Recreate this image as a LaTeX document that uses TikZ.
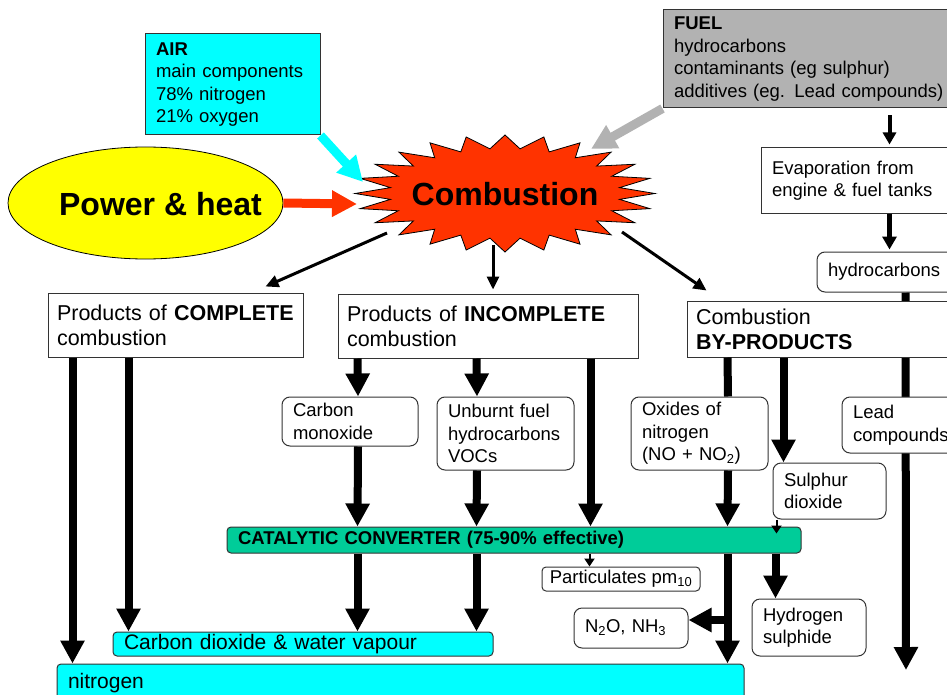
\documentclass[tikz,border=0pt]{standalone}
\usepackage{fontspec}
\setmainfont{Liberation Sans}
\usetikzlibrary{arrows.meta,shapes.geometric,backgrounds}

\definecolor{aircyan}{RGB}{0,255,255}
\definecolor{fuelgrey}{RGB}{178,178,178}
\definecolor{flamered}{RGB}{255,51,0}
\definecolor{powyellow}{RGB}{255,255,0}
\definecolor{catgreen}{RGB}{0,204,153}
\definecolor{boxline}{RGB}{51,51,51}

\tikzset{
    box/.style = {draw = boxline, line width = 1pt, fill = white, align = left,
                  inner xsep = 11pt, inner ysep = 0pt,
                  font = \fontsize{18.5}{22.5}\selectfont},
    headbox/.style = {box, inner xsep = 9pt, font = \fontsize{21.5}{25}\selectfont},
    roundbox/.style = {box, rounded corners = 8pt},
    bandbox/.style = {box, rounded corners = 4pt, font = \fontsize{21}{25}\selectfont},
    bigfont/.style = {font = \fontsize{32}{36}\selectfont\bfseries},
    bigarrow/.style = {line width = 8pt, -{Triangle[width = 23pt, length = 23pt]}},
    midarrow/.style = {line width = 5pt, -{Triangle[width = 14pt, length = 13pt]}},
    thinarrow/.style = {line width = 3pt, -{Triangle[width = 12pt, length = 13pt]}},
    tinyarrow/.style = {line width = 2pt, -{Triangle[width = 10pt, length = 8pt]}},
    feedarrow/.style = {line width = 9pt, -{Triangle[width = 25pt, length = 25pt]}}
}

\begin{document}
\begin{tikzpicture}[x = 1pt, y = -1pt]
    \useasboundingbox (0, 0) rectangle (947, 695);
    \clip (0, 0) rectangle (947, 695);

    \node[box, fill = aircyan, text width = 153pt, minimum height = 101pt] (air) at (232.5, 84.5) {\textbf{AIR}\\main components\\78\% nitrogen\\21\% oxygen};
    \node[box, fill = fuelgrey, text width = 288pt, minimum height = 98pt] (fuel) at (818, 59) {\textbf{FUEL}\\hydrocarbons\\contaminants (eg sulphur)\\additives (eg. Lead compounds)};
    \node[ellipse, draw = black, line width = 0.8pt, fill = powyellow, minimum width = 275pt, minimum height = 112pt, inner sep = 0pt] (power) at (145.5, 203) {};
    \node[bigfont] (powtext) at (160.5, 204) {Power \& heat};

    \draw[line width = 0.8pt, fill = flamered] plot[variable = \k, samples at = {0, ..., 47}] ({505 + 150 * (1 - 0.23 * mod(\k, 2)) * cos(90 + 7.5 * \k)}, {193.5 - 58.5 * (1 - 0.23 * mod(\k, 2)) * sin(90 + 7.5 * \k)}) -- cycle;
    \node[bigfont] (comb) at (505, 194) {Combustion};

    \coordinate (airtip)  at (363, 182);
    \coordinate (fueltip) at (591, 149);
    \coordinate (powtip)  at (357, 204);
    \coordinate (combsw)  at (387, 233);
    \coordinate (combs)   at (493, 245);
    \coordinate (combse)  at (622, 232);

    \node[headbox, text width = 237pt, minimum height = 64pt] (complete) at (175.5, 325) {Products of \textbf{COMPLETE}\\combustion};
    \node[headbox, text width = 282pt, minimum height = 64pt] (incomplete) at (488, 326) {Products of \textbf{INCOMPLETE}\\combustion};
    \node[headbox, text width = 272pt, minimum height = 56pt] (byprod) at (832, 329) {Combustion\\\textbf{BY-PRODUCTS}};

    \node[box, text width = 188pt, minimum height = 65pt] (evap) at (866, 180.5) {Evaporation from\\engine \& fuel tanks};
    \node[roundbox, text width = 138pt, minimum height = 40pt] (hydro) at (897, 272) {hydrocarbons};

    \node[roundbox, text width = 114pt, minimum height = 49pt] (carbmon) at (350, 421.5) {Carbon\\monoxide};
    \node[roundbox, text width = 115pt, minimum height = 73pt] (unburnt) at (505.5, 433.5) {Unburnt fuel\\hydrocarbons\\VOCs};
    \node[roundbox, text width = 115pt, minimum height = 73pt] (oxides) at (699.5, 433.5) {Oxides of\\nitrogen\\(NO + NO\textsubscript{2})};
    \node[roundbox, text width = 118pt, minimum height = 56pt] (lead) at (912, 425) {Lead\\compounds};
    \node[roundbox, text width = 91pt, minimum height = 56pt] (sulphur) at (829.5, 491) {Sulphur\\dioxide};

    \node[box, rounded corners = 4pt, fill = catgreen, text width = 552pt, minimum height = 26pt] (cat) at (514, 540) {\textbf{CATALYTIC CONVERTER (75-90\% effective)}};

    \node[box, rounded corners = 4pt, inner xsep = 0pt, minimum width = 158pt, minimum height = 24pt] (partic) at (621, 579) {Particulates pm\textsubscript{10}};
    \node[roundbox, text width = 92pt, minimum height = 40pt] (n2o) at (631, 628) {N\textsubscript{2}O, NH\textsubscript{3}};
    \node[roundbox, text width = 92pt, minimum height = 57pt] (h2s) at (809, 627.5) {Hydrogen\\sulphide};
    \node[bandbox, fill = aircyan, text width = 358pt, minimum height = 24pt] (co2) at (303, 644) {Carbon dioxide \& water vapour};
    \node[bandbox, fill = aircyan, text width = 665pt, minimum height = 38pt] (nitro) at (400.5, 683) {nitrogen};

    \draw[feedarrow, aircyan] (air.south east) -- (airtip);
    \draw[feedarrow, fuelgrey] (fuel.south west) -- (fueltip);
    \draw[feedarrow, flamered] (power.east) -- (powtip);

    \draw[thinarrow] (combsw) -- ([xshift = -38pt, yshift = 6pt]complete.north east);
    \draw[thinarrow] (combs) -- ([xshift = 5pt, yshift = 4pt]incomplete.north);
    \draw[thinarrow] (combse) -- ([xshift = 20pt, yshift = 10pt]byprod.north west);

    \draw[line width = 4pt, -{Triangle[width = 13pt, length = 12pt]}] ([xshift = 227pt, yshift = -7pt]fuel.south west) -- ([xshift = 129pt, yshift = 3pt]evap.north west);
    \draw[midarrow] ([xshift = 129pt]evap.south west) -- ([xshift = 73pt, yshift = 2pt]hydro.north west);
    \coordinate (leadend) at (906, 670);
    \begin{pgfonlayer}{background}
        \draw[bigarrow] ([xshift = 89pt]hydro.south west) -- (leadend);
    \end{pgfonlayer}

    \draw[bigarrow] ([xshift = 25pt]complete.south west) -- ([xshift = 16pt]nitro.north west);
    \draw[bigarrow] ([xshift = 81pt]complete.south west) -- ([xshift = 16pt]co2.north west);

    \draw[bigarrow] ([xshift = 20pt]incomplete.south west) -- ([xshift = 8pt]carbmon.north);
    \draw[bigarrow] ([xshift = 139pt]incomplete.south west) -- ([xshift = -28.5pt]unburnt.north);
    \draw[bigarrow] ([xshift = 253pt]incomplete.south west) -- ([xshift = 364pt]cat.north west);
    \draw[bigarrow] ([xshift = 8pt]carbmon.south) -- ([xshift = 131pt]cat.north west);
    \draw[bigarrow] ([xshift = -28.5pt]unburnt.south) -- ([xshift = 250pt]cat.north west);

    \draw[line width = 8pt] ([xshift = 41pt]byprod.south west) -- ([xshift = 28.5pt]oxides.north);
    \draw[bigarrow] ([xshift = 28.5pt]oxides.south) -- ([xshift = 501pt]cat.north west);
    \draw[bigarrow] ([xshift = 97pt]byprod.south west) -- ([xshift = 11pt]sulphur.north west);
    \draw[tinyarrow] ([xshift = 4pt]sulphur.south west) -- ([xshift = 550pt, yshift = -7pt]cat.north west);

    \draw[bigarrow] ([xshift = 131pt]cat.south west) -- ([xshift = 245pt]co2.north west);
    \draw[bigarrow] ([xshift = 250pt]cat.south west) -- ([xshift = 364pt]co2.north west);
    \draw[tinyarrow] ([xshift = 363pt]cat.south west) -- ([xshift = 48pt]partic.north west);
    \draw[bigarrow] ([xshift = 501pt]cat.south west) -- ([xshift = 671pt]nitro.north west);
    \coordinate (split) at (728, 620);
    \draw[bigarrow] (split) -- (n2o.east |- split);
    \draw[bigarrow] ([xshift = 549pt]cat.south west) -- ([xshift = 24pt]h2s.north west);
\end{tikzpicture}
\end{document}
